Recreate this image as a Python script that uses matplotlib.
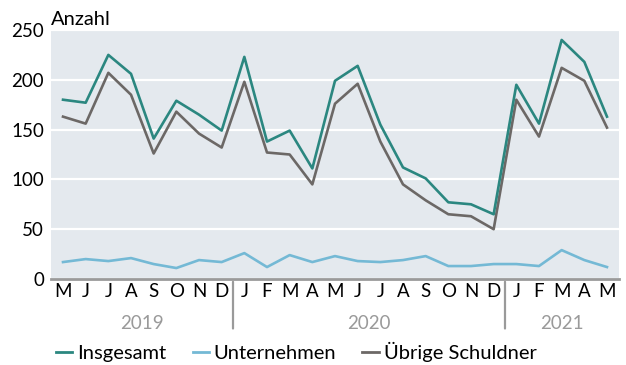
import numpy as np
import matplotlib.pyplot as plt
from matplotlib.lines import Line2D

plt.rcParams['font.family'] = ['Lato', 'DejaVu Sans']

# Monthly counts, May 2019 - May 2021
months = ['M', 'J', 'J', 'A', 'S', 'O', 'N', 'D',
          'J', 'F', 'M', 'A', 'M', 'J', 'J', 'A', 'S', 'O', 'N', 'D',
          'J', 'F', 'M', 'A', 'M']
years = ['2019', '2020', '2021']
insgesamt = [180, 177, 225, 206, 141, 179, 165, 149, 223, 138, 149, 111,
             199, 214, 155, 112, 101, 77, 75, 65, 195, 156, 240, 218, 163]
unternehmen = [17, 20, 18, 21, 15, 11, 19, 17, 26, 12, 24, 17,
               23, 18, 17, 19, 23, 13, 13, 15, 15, 13, 29, 19, 12]
uebrige = [163, 156, 207, 185, 126, 168, 146, 132, 198, 127, 125, 95,
           176, 196, 138, 95, 79, 65, 63, 50, 180, 143, 212, 199, 152]

c_total = '#2b8780'
c_firm = '#74b9d5'
c_other = '#6c6866'
bg = '#e4e9ee'
grey = '#9a9a9a'

fig = plt.figure(figsize=(6.26, 3.65), dpi=100)
ax = fig.add_axes([51/626, 1 - 279/365, 568/626, 249/365])
ax.set_facecolor(bg)

x = np.arange(len(months))
ax.plot(x, unternehmen, color=c_firm, lw=1.9, zorder=3)
ax.plot(x, uebrige, color=c_other, lw=1.9, zorder=3)
ax.plot(x, insgesamt, color=c_total, lw=1.9, zorder=4)

ax.set_xlim(-0.53, len(months) - 0.47)
ax.set_ylim(0, 250)
ax.set_yticks([0, 50, 100, 150, 200, 250])
ax.grid(axis='y', color='white', lw=1.6, zorder=1)
ax.tick_params(axis='y', length=0, labelsize=13.5, pad=5)
for s in ['top', 'right', 'left']:
    ax.spines[s].set_visible(False)
ax.spines['bottom'].set_color(grey)
ax.spines['bottom'].set_linewidth(2)

ax.set_xticks(x)
ax.set_xticklabels(months, fontsize=13.5)
ax.tick_params(axis='x', length=0, pad=3)

ax.text(0, 1.01, 'Anzahl', transform=ax.transAxes, fontsize=14.5,
        ha='left', va='bottom')

# year labels and separators below the axis
bounds = [-0.5, 7.5, 19.5, 24.5]
for i, yr in enumerate(years):
    mid = (bounds[i] + bounds[i + 1]) / 2
    ax.annotate(yr, xy=(mid, 0), xycoords=('data', 'axes fraction'),
                xytext=(0, -38), textcoords='offset points',
                ha='center', va='bottom', fontsize=13.5, color=grey)
for b in bounds[1:3]:
    ax.annotate('', xy=(b, 0), xycoords=('data', 'axes fraction'),
                xytext=(b, -0.21), textcoords=('data', 'axes fraction'),
                arrowprops=dict(arrowstyle='-', color=grey, lw=1.6))

handles = [Line2D([], [], color=c_total, lw=2),
           Line2D([], [], color=c_firm, lw=2),
           Line2D([], [], color=c_other, lw=2)]
fig.legend(handles, ['Insgesamt', 'Unternehmen', 'Übrige Schuldner'],
           loc='center left', bbox_to_anchor=(48/626, 1 - 352/365),
           ncol=3, frameon=False, fontsize=14.5, handlelength=0.8,
           handletextpad=0.25, columnspacing=1.3, borderaxespad=0)

fig.savefig('out.png', dpi=100)
